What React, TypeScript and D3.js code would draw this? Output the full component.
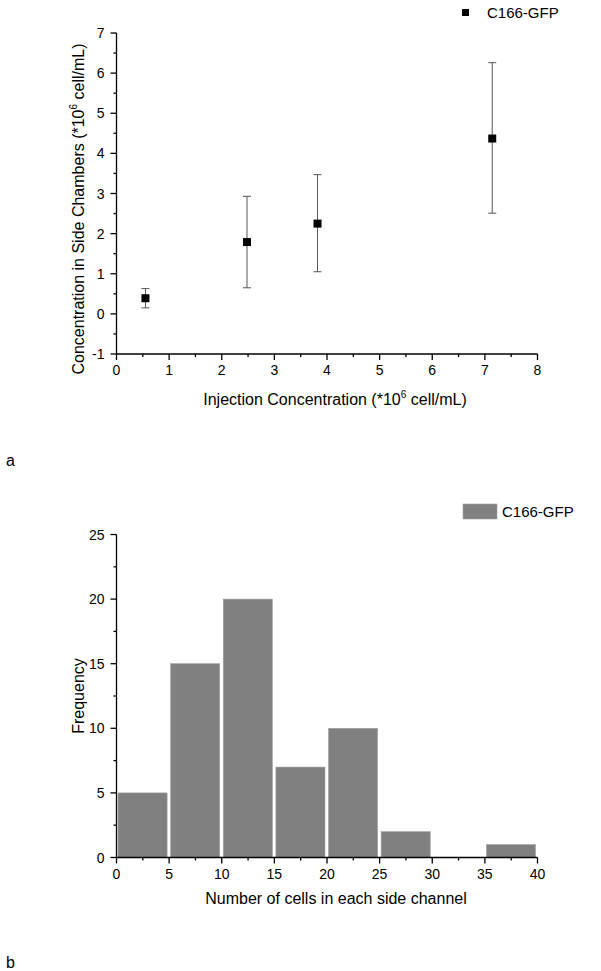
import React from "react";
import * as d3 from "d3";

const injX = [0.55, 2.48, 3.82, 7.14];
const sideY = [0.39, 1.79, 2.25, 4.37];
const errLow = [0.15, 0.65, 1.05, 2.51];
const errHigh = [0.63, 2.93, 3.47, 6.26];

const binStarts = [0, 5, 10, 15, 20, 25, 30, 35];
const binWidth = 5;
const freq = [5, 15, 20, 7, 10, 2, 0, 1];

const xTicksA = [0, 1, 2, 3, 4, 5, 6, 7, 8];
const yTicksA = [-1, 0, 1, 2, 3, 4, 5, 6, 7];
const xTicksB = [0, 5, 10, 15, 20, 25, 30, 35, 40];
const yTicksB = [0, 5, 10, 15, 20, 25];

const seriesName = "C166-GFP";
const FONT = "'Liberation Sans', Arial, sans-serif";

export default function App() {
  // Chart a
  const xa = d3.scaleLinear().domain([0, 8]).range([116.5, 537.5]);
  const ya = d3.scaleLinear().domain([-1, 7]).range([354, 33]);
  // Chart b
  const xb = d3.scaleLinear().domain([0, 40]).range([116.5, 537.5]);
  const yb = d3.scaleLinear().domain([0, 25]).range([857.5, 534.5]);

  const minorXA = d3.range(0.5, 8, 1);
  const minorYA = d3.range(-0.5, 7, 1);
  const minorXB = d3.range(2.5, 40, 5);
  const minorYB = d3.range(2.5, 25, 5);

  return (
    <svg width={601} height={971} style={{ position: "absolute", left: 0, top: 0, background: "#fff" }} fontFamily={FONT}>
      <rect x={0} y={0} width={601} height={971} fill="#fff" />
      {/* ===== Chart a ===== */}
      <g stroke="#000" strokeWidth={1.3} fill="none">
        <line x1={xa(0)} x2={xa(0)} y1={ya(7)} y2={ya(-1)} />
        <line x1={xa(0)} x2={xa(8)} y1={ya(-1)} y2={ya(-1)} />
        {yTicksA.map((t) => (
          <line key={"yta" + t} x1={xa(0) - 6} x2={xa(0)} y1={ya(t)} y2={ya(t)} />
        ))}
        {minorYA.map((t) => (
          <line key={"ymta" + t} x1={xa(0) - 3} x2={xa(0)} y1={ya(t)} y2={ya(t)} />
        ))}
        {xTicksA.map((t) => (
          <line key={"xta" + t} x1={xa(t)} x2={xa(t)} y1={ya(-1)} y2={ya(-1) + 6} />
        ))}
        {minorXA.map((t) => (
          <line key={"xmta" + t} x1={xa(t)} x2={xa(t)} y1={ya(-1)} y2={ya(-1) + 3} />
        ))}
      </g>
      <g fontSize={14} fill="#000">
        {yTicksA.map((t) => (
          <text key={"ylab" + t} x={xa(0) - 12} y={ya(t) + 5} textAnchor="end">{t}</text>
        ))}
        {xTicksA.map((t) => (
          <text key={"xlab" + t} x={xa(t)} y={ya(-1) + 21} textAnchor="middle">{t}</text>
        ))}
      </g>
      {/* error bars */}
      <g stroke="#555" strokeWidth={1}>
        {injX.map((x, i) => (
          <g key={"eb" + i}>
            <line x1={xa(x)} x2={xa(x)} y1={ya(errLow[i])} y2={ya(errHigh[i])} />
            <line x1={xa(x) - 4} x2={xa(x) + 4} y1={ya(errLow[i])} y2={ya(errLow[i])} />
            <line x1={xa(x) - 4} x2={xa(x) + 4} y1={ya(errHigh[i])} y2={ya(errHigh[i])} />
          </g>
        ))}
      </g>
      <g fill="#000">
        {injX.map((x, i) => (
          <rect key={"pt" + i} x={xa(x) - 4} y={ya(sideY[i]) - 4} width={8} height={8} />
        ))}
      </g>
      {/* legend a */}
      <rect x={462} y={9} width={7} height={7} fill="#000" />
      <text x={487} y={18} fontSize={15} fill="#000">{seriesName}</text>
      {/* axis titles a */}
      <text x={335} y={405} fontSize={16} textAnchor="middle" fill="#000">
        Injection Concentration (*10<tspan fontSize={10} dy={-7}>6</tspan><tspan dy={7}> cell/mL)</tspan>
      </text>
      <text transform={`translate(84,209) rotate(-90)`} fontSize={16} textAnchor="middle" fill="#000">
        Concentration in Side Chambers (*10<tspan fontSize={10} dy={-7}>6</tspan><tspan dy={7}> cell/mL)</tspan>
      </text>
      <text x={6} y={466} fontSize={16} fill="#000">a</text>

      {/* ===== Chart b ===== */}
      <g>
        {binStarts.map((s, i) =>
          freq[i] > 0 ? (
            <rect
              key={"bar" + i}
              x={xb(s) + 1.5}
              y={yb(freq[i])}
              width={xb(s + binWidth) - xb(s) - 3.5}
              height={yb(0) - yb(freq[i])}
              fill="#808080"
              stroke="#a0a0a0"
              strokeWidth={0.6}
            />
          ) : null
        )}
      </g>
      <g stroke="#000" strokeWidth={1.3} fill="none">
        <line x1={xb(0)} x2={xb(0)} y1={yb(25)} y2={yb(0)} />
        <line x1={xb(0)} x2={xb(40)} y1={yb(0)} y2={yb(0)} />
        {yTicksB.map((t) => (
          <line key={"ytb" + t} x1={xb(0) - 6} x2={xb(0)} y1={yb(t)} y2={yb(t)} />
        ))}
        {minorYB.map((t) => (
          <line key={"ymtb" + t} x1={xb(0) - 3} x2={xb(0)} y1={yb(t)} y2={yb(t)} />
        ))}
        {xTicksB.map((t) => (
          <line key={"xtb" + t} x1={xb(t)} x2={xb(t)} y1={yb(0)} y2={yb(0) + 6} />
        ))}
        {minorXB.map((t) => (
          <line key={"xmtb" + t} x1={xb(t)} x2={xb(t)} y1={yb(0)} y2={yb(0) + 3} />
        ))}
      </g>
      <g fontSize={14} fill="#000">
        {yTicksB.map((t) => (
          <text key={"ylabb" + t} x={xb(0) - 12} y={yb(t) + 5} textAnchor="end">{t}</text>
        ))}
        {xTicksB.map((t) => (
          <text key={"xlabb" + t} x={xb(t)} y={yb(0) + 21} textAnchor="middle">{t}</text>
        ))}
      </g>
      {/* legend b */}
      <rect x={463} y={504} width={34} height={15} fill="#808080" stroke="#a0a0a0" strokeWidth={0.6} />
      <text x={502} y={517} fontSize={15} fill="#000">{seriesName}</text>
      <text x={336} y={904} fontSize={16} textAnchor="middle" fill="#000">Number of cells in each side channel</text>
      <text transform={`translate(84,${(yb(25) + yb(0)) / 2}) rotate(-90)`} fontSize={16} textAnchor="middle" fill="#000">Frequency</text>
      <text x={6} y={968} fontSize={16} fill="#000">b</text>
    </svg>
  );
}
